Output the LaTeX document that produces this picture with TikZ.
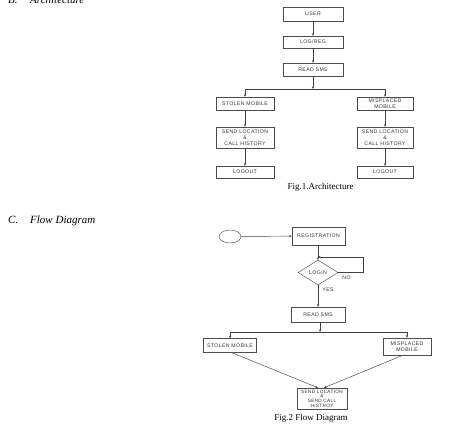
\documentclass[tikz,border=0pt]{standalone}
\usepackage{fontspec}
\setmainfont{Liberation Serif}
\setsansfont{Liberation Sans}
\usetikzlibrary{shapes.geometric,arrows.meta}
\newfontfamily\boxfont[LetterSpace=7]{Liberation Sans}
\begin{document}
\begin{tikzpicture}[x=1pt,y=-1pt,
  box/.style={draw=black!70, line width=0.45pt, inner sep=0pt, align=center,
    font=\boxfont\fontsize{5.2}{6}\selectfont, text=black!80},
  conn/.style={draw=black!75, line width=0.45pt},
  arr/.style={conn, -{Stealth[length=2.6pt,width=2.2pt]}},
  lbl/.style={font=\boxfont\fontsize{5.2}{6}\selectfont, text=black!80, inner sep=0pt},
  figcap/.style={font=\fontsize{9}{10}\selectfont, inner sep=0pt},
  head/.style={font=\itshape\fontsize{11}{12}\selectfont, inner sep=0pt, anchor=base west}]
\useasboundingbox (0,0) rectangle (468,431);

% headings
\node[head] (hb) at (8,3) {B.};
\node[head] (hbt) at (30,3) {Architecture};
\node[head] (hc) at (8,223) {C.};
\node[head] (hct) at (30,223) {Flow Diagram};

% ---------- Fig 1 ----------
\node[box, minimum width=60pt, minimum height=14pt] (user) at (313,14) {USER};
\node[box, minimum width=60pt, minimum height=12pt] (logreg) at (313,42) {LOG/REG};
\node[box, minimum width=60pt, minimum height=13pt] (rs1) at (313,69.5) {READ SMS};
\node[box, minimum width=58pt, minimum height=13pt] (st1) at (245,103.5) {STOLEN MOBILE};
\node[box, minimum width=56pt, minimum height=13pt] (mp1) at (385,103.5) {MISPLACED\\MOBILE};
\node[box, minimum width=58pt, minimum height=21pt] (sl1) at (245,137.5) {SEND LOCATION\\\&\\CALL HISTORY};
\node[box, minimum width=56pt, minimum height=21pt] (sr1) at (385,137.5) {SEND LOCATION\\\&\\CALL HISTORY};
\node[box, minimum width=58pt, minimum height=12pt] (lo1) at (245,172) {LOGOUT};
\node[box, minimum width=56pt, minimum height=12pt] (lo2) at (385,172) {LOGOUT};
\coordinate (b1) at (313,89);
\coordinate (b1l) at (245,89);
\coordinate (b1r) at (385,89);

\draw[arr] (user) -- (logreg);
\draw[arr] (logreg) -- (rs1);
\draw[arr] (rs1) -- (b1);
\draw[conn] (b1l) -- (b1r);
\draw[arr] (b1l) -- (st1);
\draw[arr] (b1r) -- (mp1);
\draw[arr] (st1) -- (sl1);
\draw[arr] (mp1) -- (sr1);
\draw[arr] (sl1) -- (lo1);
\draw[arr] (sr1) -- (lo2);

\node[figcap] (cap1) at (320.5,187) {Fig.1.Architecture};

% ---------- Fig 2 ----------
\node[draw=black!70, line width=0.45pt, ellipse, minimum width=22pt, minimum height=13pt, inner sep=0pt] (start) at (230,236.5) {};
\node[box, minimum width=53pt, minimum height=18pt] (reg) at (318.5,236) {REGISTRATION};
\node[box, diamond, aspect=1.6, minimum width=40pt, minimum height=25pt] (login) at (318,272.5) {LOGIN};
\node[box, minimum width=54pt, minimum height=15pt] (rs2) at (318,314.5) {READ SMS};
\node[box, minimum width=53pt, minimum height=14pt] (st2) at (230,345.5) {STOLEN MOBILE};
\node[box, minimum width=48pt, minimum height=17pt] (mp2) at (407,346.5) {MISPLACED\\MOBILE};
\node[box, minimum width=50pt, minimum height=21pt, font=\boxfont\fontsize{4.7}{4.6}\selectfont] (sd2) at (322,398.5) {SEND LOCATION\\\&\\SEND CALL\\HISTROY};

\coordinate (lp1) at (363,272.5);
\coordinate (lp2) at (363,257);
\coordinate (lp3) at (318,257);
\coordinate (b2) at (320,332);
\coordinate (b2l) at (230,332);
\coordinate (b2r) at (407,332);

\draw[arr] (start) -- (reg);
\draw[arr] (reg.south -| login.north) -- (login.north);
\draw[arr] (login.east) -- (lp1) -- (lp2) -- (lp3);
\draw[arr] (login.south) -- (rs2.north);
\draw[arr] (rs2.south -| b2) -- (b2);
\draw[conn] (b2l) -- (b2r);
\draw[arr] (b2l) -- (st2);
\draw[arr] (b2r) -- (mp2);
\draw[arr] ([xshift=2pt]st2.south) -- ([xshift=-4pt]sd2.north);
\draw[arr] ([xshift=-4pt]mp2.south) -- ([xshift=2pt]sd2.north);

\node[lbl] (no) at (346.5,278) {NO};
\node[lbl] (yes) at (328,290) {YES};

\node[figcap] (cap2) at (311,418) {Fig.2 Flow Diagram};
\end{tikzpicture}
\end{document}
